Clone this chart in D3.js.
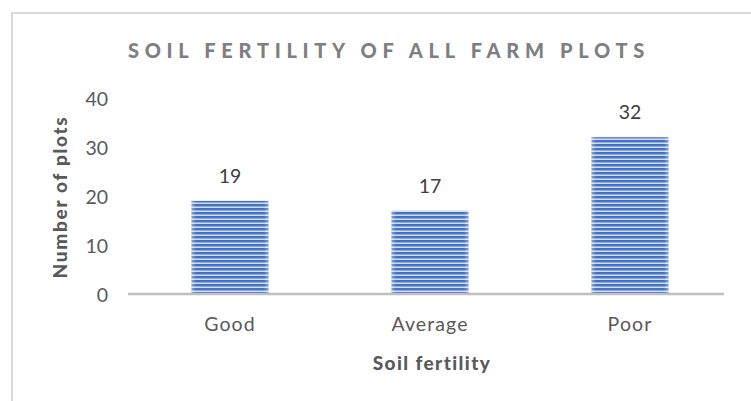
<!DOCTYPE html>
<html><head><meta charset="utf-8">
<script src="https://cdn.jsdelivr.net/npm/d3@7/dist/d3.min.js"></script>
<style>body{margin:0;background:#fff}svg{display:block}</style>
</head><body>
<svg id="c" width="751" height="401"></svg>
<script>
const categories = ["Good", "Average", "Poor"];
const values = [19, 17, 32];
const yTicks = [0, 10, 20, 30, 40];
const title = "SOIL FERTILITY OF ALL FARM PLOTS";
const xTitle = "Soil fertility";
const yTitle = "Number of plots";

const svg = d3.select("#c");
const font = "Lato, 'Open Sans', sans-serif";

// frame
svg.append("path").attr("d","M12,401 V13 H751").attr("fill","none").attr("stroke","#d9d9d9").attr("stroke-width",2);

// pattern
const defs = svg.append("defs");
const pat = defs.append("pattern").attr("id","stripes").attr("patternUnits","userSpaceOnUse")
  .attr("width",8).attr("height",4);
pat.append("rect").attr("width",8).attr("height",4).attr("fill","#4472c4");
pat.append("rect").attr("y",2).attr("width",8).attr("height",1).attr("fill","#8eaadf");
pat.append("rect").attr("y",3).attr("width",8).attr("height",1).attr("fill","#d0dcf3");
const grad = defs.append("linearGradient").attr("id","edge").attr("x1","0").attr("x2","1");
grad.append("stop").attr("offset","0").attr("stop-color","#fff").attr("stop-opacity",0.35);
grad.append("stop").attr("offset","0.06").attr("stop-color","#fff").attr("stop-opacity",0);
grad.append("stop").attr("offset","0.94").attr("stop-color","#fff").attr("stop-opacity",0);
grad.append("stop").attr("offset","1").attr("stop-color","#fff").attr("stop-opacity",0.35);

const x = d3.scaleBand().domain(categories).range([130, 730]).paddingInner(0.615).paddingOuter(0.3075);
const y = d3.scaleLinear().domain([0, 40]).range([294, 98]);

// title
svg.append("text").attr("x", 389).attr("y", 58).attr("text-anchor","middle")
  .attr("font-family", font).attr("font-weight",900).attr("font-size",20)
  .attr("letter-spacing","5.7px").attr("fill","#7f7f7f").text(title);

// y axis labels
const yAxis = d3.axisLeft(y).tickValues(yTicks).tickSize(0).tickPadding(0);
const yg = svg.append("g").attr("transform","translate(108,0)").call(yAxis);
yg.select(".domain").remove();
yg.selectAll("text").attr("font-family", font).attr("font-size",19.5).attr("fill","#595959").attr("dy","0.36em");

// bars
const bars = svg.append("g");
categories.forEach((c,i)=>{
  bars.append("rect").attr("x", x(c)).attr("y", y(values[i])).attr("width", x.bandwidth())
    .attr("height", y(0)-y(values[i])).attr("fill","url(#stripes)");
  bars.append("rect").attr("x", x(c)).attr("y", y(values[i])).attr("width", x.bandwidth())
    .attr("height", y(0)-y(values[i])).attr("fill","url(#edge)");
  svg.append("text").attr("x", x(c)+x.bandwidth()/2).attr("y", y(values[i])-18)
    .attr("text-anchor","middle").attr("font-family", font).attr("font-size",19.5).attr("fill","#404040").text(values[i]);
});

// x axis
const xAxis = d3.axisBottom(x).tickSize(0).tickPadding(23);
const xg = svg.append("g").attr("transform","translate(0,294)").call(xAxis);
xg.select(".domain").attr("stroke","#bfbfbf").attr("stroke-width",2.5).attr("d","M128,0H724");
xg.selectAll("text").attr("font-family", font).attr("font-size",19.5).attr("letter-spacing","1.1px").attr("fill","#595959");

svg.append("text").attr("x", 432).attr("y", 370).attr("text-anchor","middle")
  .attr("font-family", font).attr("font-weight",900).attr("font-size",19).attr("letter-spacing","1.4px").attr("fill","#595959").text(xTitle);
svg.append("text").attr("transform","translate(67,197) rotate(-90)").attr("text-anchor","middle")
  .attr("font-family", font).attr("font-weight",900).attr("font-size",19).attr("letter-spacing","1.7px").attr("fill","#595959").text(yTitle);
</script>
</body></html>
